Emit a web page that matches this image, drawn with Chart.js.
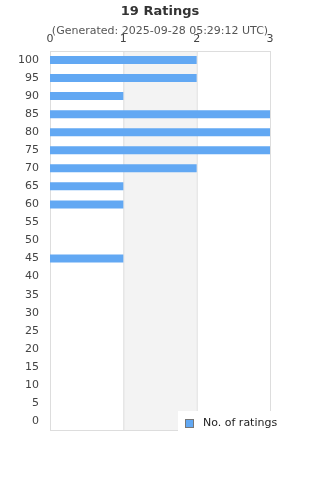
<!DOCTYPE html>
<html>
<head>
<meta charset="utf-8">
<script src="https://cdn.jsdelivr.net/npm/chart.js@4"></script>
<style>
  html, body { margin: 0; padding: 0; background: #fff; }
  #wrap { width: 320px; height: 480px; }
</style>
</head>
<body>
<div id="wrap"><canvas id="ratingsChart"></canvas></div>
<script>
// ratings buckets, top to bottom
const ratingLabels = ['100', '95', '90', '85', '80', '75', '70', '65', '60', '55', '50',
                      '45', '40', '35', '30', '25', '20', '15', '10', '5', '0'];
const ratingCounts = [2, 2, 1, 3, 3, 3, 2, 1, 1, 0, 0, 1, 0, 0, 0, 0, 0, 0, 0, 0, 0];
const xTicks = [0, 1, 2, 3];

const barColor = '#62a8f3';

// grey band between 1 and 2, plus frame
const bandPlugin = {
    id: 'band',
    afterLayout(chart) {
        // y axis is squeezed to zero width so the title stays centred;
        // widen its clip box again so the labels show in the left margin
        chart.scales.y.left = 0;
    },
    beforeDatasetsDraw(chart) {
        const { ctx, chartArea: a, scales: { x } } = chart;
        ctx.save();
        ctx.fillStyle = '#f3f3f3';
        ctx.fillRect(x.getPixelForValue(1), a.top, x.getPixelForValue(2) - x.getPixelForValue(1), a.bottom - a.top);
        ctx.strokeStyle = '#dddddd';
        ctx.lineWidth = 1;
        ctx.beginPath();
        ctx.moveTo(x.getPixelForValue(1) + 0.5, a.top);
        ctx.lineTo(x.getPixelForValue(1) + 0.5, a.bottom);
        ctx.moveTo(x.getPixelForValue(2) + 0.5, a.top);
        ctx.lineTo(x.getPixelForValue(2) + 0.5, a.bottom);
        ctx.stroke();
        ctx.strokeRect(a.left + 0.5, a.top + 0.5, a.right - a.left, a.bottom - a.top);
        ctx.restore();
    }
};

// small legend box sitting on the bottom right corner of the plot
const cornerLegend = {
    id: 'cornerLegend',
    afterDraw(chart) {
        const { ctx, chartArea: a } = chart;
        const ds = chart.data.datasets[0];
        ctx.save();
        ctx.fillStyle = '#ffffff';
        ctx.fillRect(a.left + 128, a.bottom - 19, 110, 22);
        ctx.fillStyle = ds.backgroundColor;
        ctx.fillRect(a.left + 135.5, a.bottom - 10.5, 8, 8);
        ctx.strokeStyle = '#777777';
        ctx.lineWidth = 1;
        ctx.strokeRect(a.left + 135.5, a.bottom - 10.5, 8, 8);
        ctx.fillStyle = '#222222';
        ctx.font = '11px "DejaVu Sans"';
        ctx.textBaseline = 'middle';
        ctx.fillText(ds.label, a.left + 153, a.bottom - 7);
        ctx.restore();
    }
};

new Chart(document.getElementById('ratingsChart'), {
    type: 'bar',
    data: {
        labels: ratingLabels,
        datasets: [{
            label: 'No. of ratings',
            data: ratingCounts,
            backgroundColor: barColor,
            borderWidth: 0,
            inflateAmount: 0,
            barThickness: 8
        }]
    },
    options: {
        indexAxis: 'y',
        responsive: true,
        maintainAspectRatio: false,
        animation: false,
        layout: { padding: { left: 50, right: 50, bottom: 50 } },
        plugins: {
            legend: { display: false },
            tooltip: { enabled: false },
            title: {
                display: true,
                text: '19 Ratings',
                color: '#333333',
                font: { family: 'DejaVu Sans', size: 13, weight: 'bold' },
                padding: { top: 4, bottom: 4 }
            },
            subtitle: {
                display: true,
                text: '(Generated: 2025-09-28 05:29:12 UTC)',
                color: '#555555',
                font: { family: 'DejaVu Sans', size: 11 },
                padding: { top: 1, bottom: -10 }
            }
        },
        scales: {
            x: {
                position: 'top',
                min: 0,
                max: 3,
                afterBuildTicks(axis) { axis.ticks = xTicks.map(v => ({ value: v })); },
                grid: { display: false, drawTicks: false },
                border: { display: false },
                ticks: {
                    color: '#444444',
                    padding: 5,
                    font: { family: 'DejaVu Sans', size: 11 }
                }
            },
            y: {
                afterFit(axis) { axis.width = 0; },
                grid: { display: false, drawTicks: false },
                border: { display: false },
                ticks: {
                    color: '#444444',
                    padding: 11,
                    autoSkip: false,
                    font: { family: 'DejaVu Sans', size: 11 }
                }
            }
        }
    },
    plugins: [bandPlugin, cornerLegend]
});
</script>
</body>
</html>
